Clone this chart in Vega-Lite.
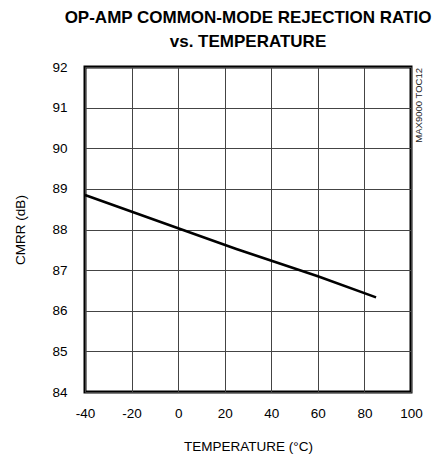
{
  "$schema": "https://vega.github.io/schema/vega-lite/v6.json",
  "width": 326,
  "height": 325,
  "autosize": "none",
  "padding": {"left": 85, "top": 67, "right": 34, "bottom": 64},
  "title": {
    "text": ["OP-AMP COMMON-MODE REJECTION RATIO", "vs. TEMPERATURE"],
    "font": "Liberation Sans",
    "fontSize": 17,
    "fontWeight": "bold",
    "color": "black",
    "anchor": "middle",
    "lineHeight": 24,
    "offset": 9
  },
  "config": {
    "view": {"stroke": "black", "strokeWidth": 3},
    "axis": {
      "labelFont": "Liberation Sans",
      "labelFontSize": 13.5,
      "labelColor": "black",
      "labelFlush": false,
      "titleFont": "Liberation Sans",
      "titleFontSize": 13.5,
      "titleFontWeight": "normal",
      "titleColor": "black",
      "grid": true,
      "gridColor": "#444444",
      "gridWidth": 1,
      "gridOpacity": 1,
      "ticks": false,
      "domain": false
    }
  },
  "datasets": {
    "cmrr": [
      {"temp": -40, "cmrr": 88.85},
      {"temp": 0, "cmrr": 88.03},
      {"temp": 25, "cmrr": 87.52},
      {"temp": 60, "cmrr": 86.85},
      {"temp": 85, "cmrr": 86.33}
    ],
    "note": [
      {"temp": 100, "cmrr": 92, "label": "MAX9000 TOC12"}
    ]
  },
  "layer": [
    {
      "data": {"name": "cmrr"},
      "mark": {"type": "line", "color": "black", "strokeWidth": 2.5},
      "encoding": {
        "x": {
          "field": "temp",
          "type": "quantitative",
          "scale": {"domain": [-40, 100], "nice": false},
          "axis": {
            "values": [-40, -20, 0, 20, 40, 60, 80, 100],
            "labelExpr": "toString(datum.value)",
            "title": "TEMPERATURE (°C)",
            "labelPadding": 14,
            "titlePadding": 20
          }
        },
        "y": {
          "field": "cmrr",
          "type": "quantitative",
          "scale": {"domain": [84, 92], "nice": false, "zero": false},
          "axis": {
            "values": [84, 85, 86, 87, 88, 89, 90, 91, 92],
            "title": "CMRR (dB)",
            "labelPadding": 18,
            "titlePadding": 24
          }
        }
      }
    },
    {
      "data": {"name": "note"},
      "mark": {
        "type": "text",
        "angle": 270,
        "align": "right",
        "baseline": "middle",
        "font": "Liberation Sans",
        "fontSize": 9.5,
        "color": "#222222",
        "dy": 8,
        "dx": -1
      },
      "encoding": {
        "x": {"field": "temp", "type": "quantitative"},
        "y": {"field": "cmrr", "type": "quantitative"},
        "text": {"field": "label"}
      }
    }
  ]
}
